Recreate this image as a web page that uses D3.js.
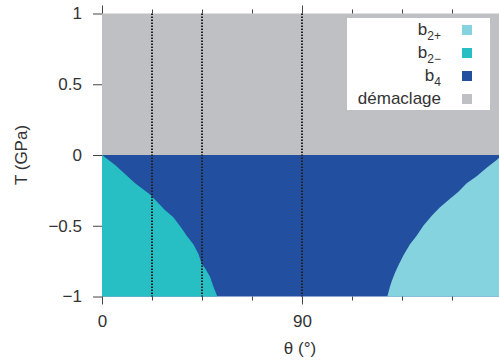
<!DOCTYPE html>
<html>
<head>
<meta charset="utf-8">
<script src="https://cdn.jsdelivr.net/npm/d3@7"></script>
<style>
  body { margin: 0; background: #fff; }
  svg text { font-family: "Liberation Sans", Arial, sans-serif; fill: #333; }
</style>
</head>
<body>
<svg id="chart"></svg>
<script>
// boundary b2- / b4 (theta in degrees, T in GPa)
const b2mTheta = [0, 5.9, 14.9, 21.6, 28.4, 32.1, 35.9, 38.1, 41.1, 43.4, 44.9, 46.4, 48.6, 50.1, 51.9];
const b2mT     = [0, -0.07, -0.2, -0.28, -0.39, -0.44, -0.52, -0.57, -0.63, -0.70, -0.77, -0.80, -0.86, -0.93, -1];
// boundary b4 / b2+
const b2pTheta = [128.4, 129.6, 130.4, 131.9, 133.4, 135.6, 138.6, 141.6, 144.6, 148.4, 152.1, 156.6, 160.4, 164.1, 168.6, 173.1, 177.6, 180];
const b2pT     = [-1, -0.93, -0.89, -0.83, -0.78, -0.71, -0.63, -0.57, -0.5, -0.43, -0.37, -0.31, -0.26, -0.2, -0.15, -0.09, -0.035, 0];
// vertical dotted lines
const vLines = [22.5, 45, 90];
const xMajor = [0, 90];
const xMinor = [22.5, 45, 67.5, 112.5, 135, 157.5];
const yTicks = [-1, -0.5, 0, 0.5, 1];
const legendNames = ["b2+", "b2−", "b4", "démaclage"];
const legendColors = ["#84d3df", "#27bfc4", "#234fa0", "#bfc0c4"];

const W = 499, H = 360;
const svg = d3.select("#chart").attr("width", W).attr("height", H);

const x = d3.scaleLinear().domain([0, 180]).range([102, 502]);
const y = d3.scaleLinear().domain([-1, 1]).range([296.5, 13.5]);

const plot = svg.append("g");

// démaclage (T > 0)
plot.append("rect")
  .attr("x", x(0)).attr("y", y(1))
  .attr("width", x(180) - x(0)).attr("height", y(0) - y(1))
  .attr("fill", legendColors[3]);

// b4 (T < 0)
plot.append("rect")
  .attr("x", x(0)).attr("y", y(0))
  .attr("width", x(180) - x(0)).attr("height", y(-1) - y(0))
  .attr("fill", legendColors[2]);

const line = d3.line().x(d => x(d[0])).y(d => y(d[1]));

// b2- : corner at theta=0, T=-1
const b2mPts = b2mTheta.map((t, i) => [t, b2mT[i]]).concat([[0, -1]]);
plot.append("path").attr("d", line(b2mPts) + "Z").attr("fill", legendColors[1]);

// b2+ : corner at theta=180, T=-1
const b2pPts = b2pTheta.map((t, i) => [t, b2pT[i]]).concat([[180, -1]]);
plot.append("path").attr("d", line(b2pPts) + "Z").attr("fill", legendColors[0]);

// dotted lines
plot.selectAll(".vline")
  .data(vLines)
  .enter().append("line")
  .attr("x1", d => x(d)).attr("x2", d => x(d))
  .attr("y1", y(1)).attr("y2", y(-1))
  .attr("stroke", "#222")
  .attr("stroke-width", 2)
  .attr("stroke-dasharray", "1.5,1.5");

// axes
function styleAxis(g) {
  g.select(".domain").remove();
  g.selectAll("line").attr("stroke", "#444");
  g.selectAll("text").attr("font-size", 17).attr("fill", "#333");
}

svg.append("g")
  .attr("transform", `translate(0,${y(-1)})`)
  .call(d3.axisBottom(x).tickValues(xMajor).tickSize(8).tickPadding(10).tickFormat(d3.format("d")))
  .call(styleAxis);
svg.append("g")
  .attr("transform", `translate(0,${y(-1)})`)
  .call(d3.axisBottom(x).tickValues(xMinor).tickSize(4).tickFormat(""))
  .call(styleAxis);
svg.append("g")
  .attr("transform", `translate(0,${y(1)})`)
  .call(d3.axisTop(x).tickValues(xMajor).tickSize(8).tickFormat(""))
  .call(styleAxis);
svg.append("g")
  .attr("transform", `translate(0,${y(1)})`)
  .call(d3.axisTop(x).tickValues(xMinor).tickSize(4).tickFormat(""))
  .call(styleAxis);

svg.append("g")
  .attr("transform", `translate(${x(0)},0)`)
  .call(d3.axisLeft(y).tickValues(yTicks).tickSize(9).tickPadding(11).tickFormat(d3.format("")))
  .call(styleAxis);

// axis titles
svg.append("text")
  .attr("x", 300).attr("y", 354)
  .attr("text-anchor", "middle")
  .attr("font-size", 17)
  .text("θ (°)");

svg.append("text")
  .attr("transform", `translate(27,${y(0)}) rotate(-90)`)
  .attr("text-anchor", "middle")
  .attr("font-size", 17)
  .text("T (GPa)");

// legend
const legend = svg.append("g");
legend.append("rect")
  .attr("x", 347).attr("y", 18)
  .attr("width", 143).attr("height", 92)
  .attr("fill", "#fff");

const rows = legend.selectAll(".row")
  .data(legendNames)
  .enter().append("g")
  .attr("transform", (d, i) => `translate(0,${30 + i * 23})`);

rows.append("rect")
  .attr("x", 462).attr("y", -5)
  .attr("width", 10).attr("height", 10)
  .attr("fill", (d, i) => legendColors[i]);

rows.append("text")
  .attr("x", 441).attr("y", 5)
  .attr("text-anchor", "end")
  .attr("font-size", 17)
  .each(function(d) {
    const t = d3.select(this);
    if (d[0] === "b" && d.length <= 3) {
      t.append("tspan").text("b");
      t.append("tspan").attr("font-size", 12).attr("dy", 5).text(d.slice(1));
    } else {
      t.text(d);
    }
  });
</script>
</body>
</html>
